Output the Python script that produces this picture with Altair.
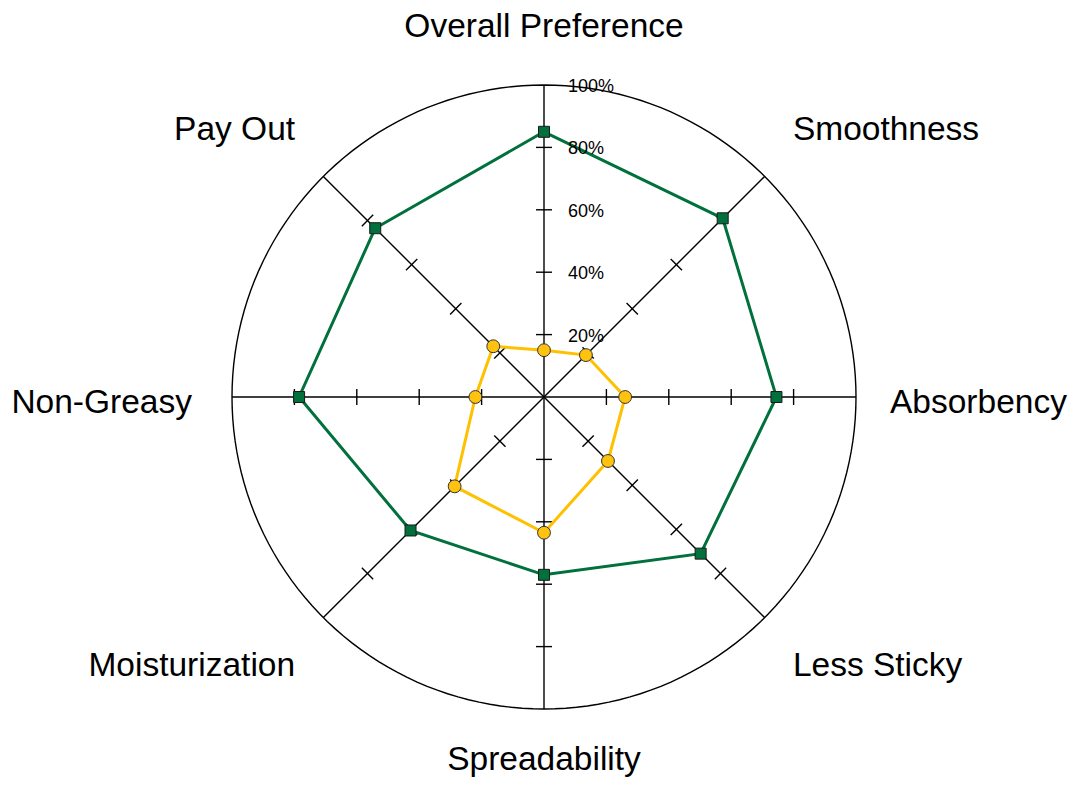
import math
import altair as alt
import pandas as pd

# ---- data ----
categories = ["Overall Preference", "Smoothness", "Absorbency", "Less Sticky",
              "Spreadability", "Moisturization", "Non-Greasy", "Pay Out"]
green_values = [85, 81, 74.5, 71, 57, 60.5, 78.5, 76.5]
yellow_values = [15, 19, 26, 29, 43.5, 40.5, 22, 23]
tick_levels = [20, 40, 60, 80]
radial_levels = [20, 40, 60, 80, 100]
radial_labels = ["20%", "40%", "60%", "80%", "100%"]

# ---- geometry (chart construction) ----
PX = 3.12            # pixels per percent
R = 100 * PX         # outer radius in px
LABEL_R = 352        # radius of category label anchors
W, H = 1060, 770
CX, CY = 536, 389    # centre in view coordinates
FONT = "Liberation Sans"

xs = alt.Scale(domain=[-CX, W - CX], nice=False, zero=False)
ys = alt.Scale(domain=[-(H - CY), CY], nice=False, zero=False)


def X(f):
    return alt.X(f"{f}:Q", scale=xs, axis=None)


def Y(f):
    return alt.Y(f"{f}:Q", scale=ys, axis=None)


cat_df = pd.DataFrame({"category": categories, "idx": list(range(len(categories)))})
n = len(categories)
ANG = f"(datum.idx*2*PI/{n})"

series_df = pd.concat([
    pd.DataFrame({"category": categories, "idx": list(range(n)), "value": green_values, "series": "A"}),
    pd.DataFrame({"category": categories, "idx": list(range(n)), "value": yellow_values, "series": "B"}),
])

# outer circle
circle = alt.Chart(alt.sequence(0, 361, 2, as_="deg")).transform_calculate(
    x=f"{R}*sin(datum.deg*PI/180)", y=f"{R}*cos(datum.deg*PI/180)"
).mark_line(color="black", strokeWidth=1.4).encode(
    x=X("x"), y=Y("y"), order=alt.Order("deg:Q")
)

# spokes
spokes = alt.Chart(cat_df).transform_calculate(
    x0="0", y0="0", x1=f"{R}*sin({ANG})", y1=f"{R}*cos({ANG})"
).mark_rule(color="black", strokeWidth=1.4).encode(
    x=X("x0"), y=Y("y0"), x2="x1:Q", y2="y1:Q"
)

# tick marks perpendicular to each spoke
tick_df = pd.DataFrame([(c, i, lv) for i, c in enumerate(categories) for lv in tick_levels],
                       columns=["category", "idx", "level"])
HALF = 8
ticks = alt.Chart(tick_df).transform_calculate(
    r=f"datum.level*{PX}",
).transform_calculate(
    xa=f"datum.r*sin({ANG}) + {HALF}*cos({ANG})",
    ya=f"datum.r*cos({ANG}) - {HALF}*sin({ANG})",
    xb=f"datum.r*sin({ANG}) - {HALF}*cos({ANG})",
    yb=f"datum.r*cos({ANG}) + {HALF}*sin({ANG})",
).mark_rule(color="black", strokeWidth=1.4).encode(
    x=X("xa"), y=Y("ya"), x2="xb:Q", y2="yb:Q"
)

# radial percentage labels
rad_df = pd.DataFrame({"level": radial_levels, "label": radial_labels})
rad_text = alt.Chart(rad_df).transform_calculate(
    x="0", y=f"datum.level*{PX}"
).mark_text(align="left", baseline="middle", dx=24, dy=2, fontSize=18,
            font=FONT, color="black").encode(
    x=X("x"), y=Y("y"), text="label:N"
)

# series
pts = alt.Chart(series_df).transform_calculate(
    x=f"datum.value*{PX}*sin({ANG})", y=f"datum.value*{PX}*cos({ANG})"
)
green_line = pts.transform_filter("datum.series == 'A'").mark_line(
    interpolate="linear-closed", color="#00703C", strokeWidth=3
).encode(x=X("x"), y=Y("y"), order=alt.Order("idx:Q"))
yellow_line = pts.transform_filter("datum.series == 'B'").mark_line(
    interpolate="linear-closed", color="#FFC000", strokeWidth=3
).encode(x=X("x"), y=Y("y"), order=alt.Order("idx:Q"))
green_pts = pts.transform_filter("datum.series == 'A'").mark_point(
    shape="square", size=121, filled=True, fill="#00703C", stroke="#1a1a1a",
    strokeWidth=1, opacity=1
).encode(x=X("x"), y=Y("y"))
yellow_pts = pts.transform_filter("datum.series == 'B'").mark_point(
    shape="circle", size=165, filled=True, fill="#FFC20E", stroke="#333333",
    strokeWidth=1, opacity=1
).encode(x=X("x"), y=Y("y"))

# category labels
label_layers = []
for i, c in enumerate(categories):
    a = 2 * math.pi * i / n
    s, co = math.sin(a), math.cos(a)
    align = "left" if s > 0.1 else ("right" if s < -0.1 else "center")
    baseline = "bottom" if co > 0.1 else ("top" if co < -0.1 else "middle")
    dy = {"bottom": -1, "top": 4, "middle": 6}[baseline]
    dx = 0
    if i == 4:
        dy = -5       # keep descenders inside the page
    if i == 2:
        dx = -6       # keep the last letter inside the page
    label_layers.append(
        alt.Chart(cat_df).transform_filter(f"datum.idx == {i}").transform_calculate(
            x=f"{LABEL_R}*sin({ANG})", y=f"{LABEL_R}*cos({ANG})"
        ).mark_text(align=align, baseline=baseline, dx=dx, dy=dy, fontSize=33.5,
                    font=FONT, color="black").encode(
            x=X("x"), y=Y("y"), text="category:N"
        )
    )

chart = alt.layer(
    circle, spokes, ticks, green_line, yellow_line, green_pts, yellow_pts,
    rad_text, *label_layers
).properties(
    width=W, height=H, padding=0, autosize="none", background="white"
).configure_view(stroke=None)

chart.save("out.html", embed_options={"renderer": "svg", "actions": False})
